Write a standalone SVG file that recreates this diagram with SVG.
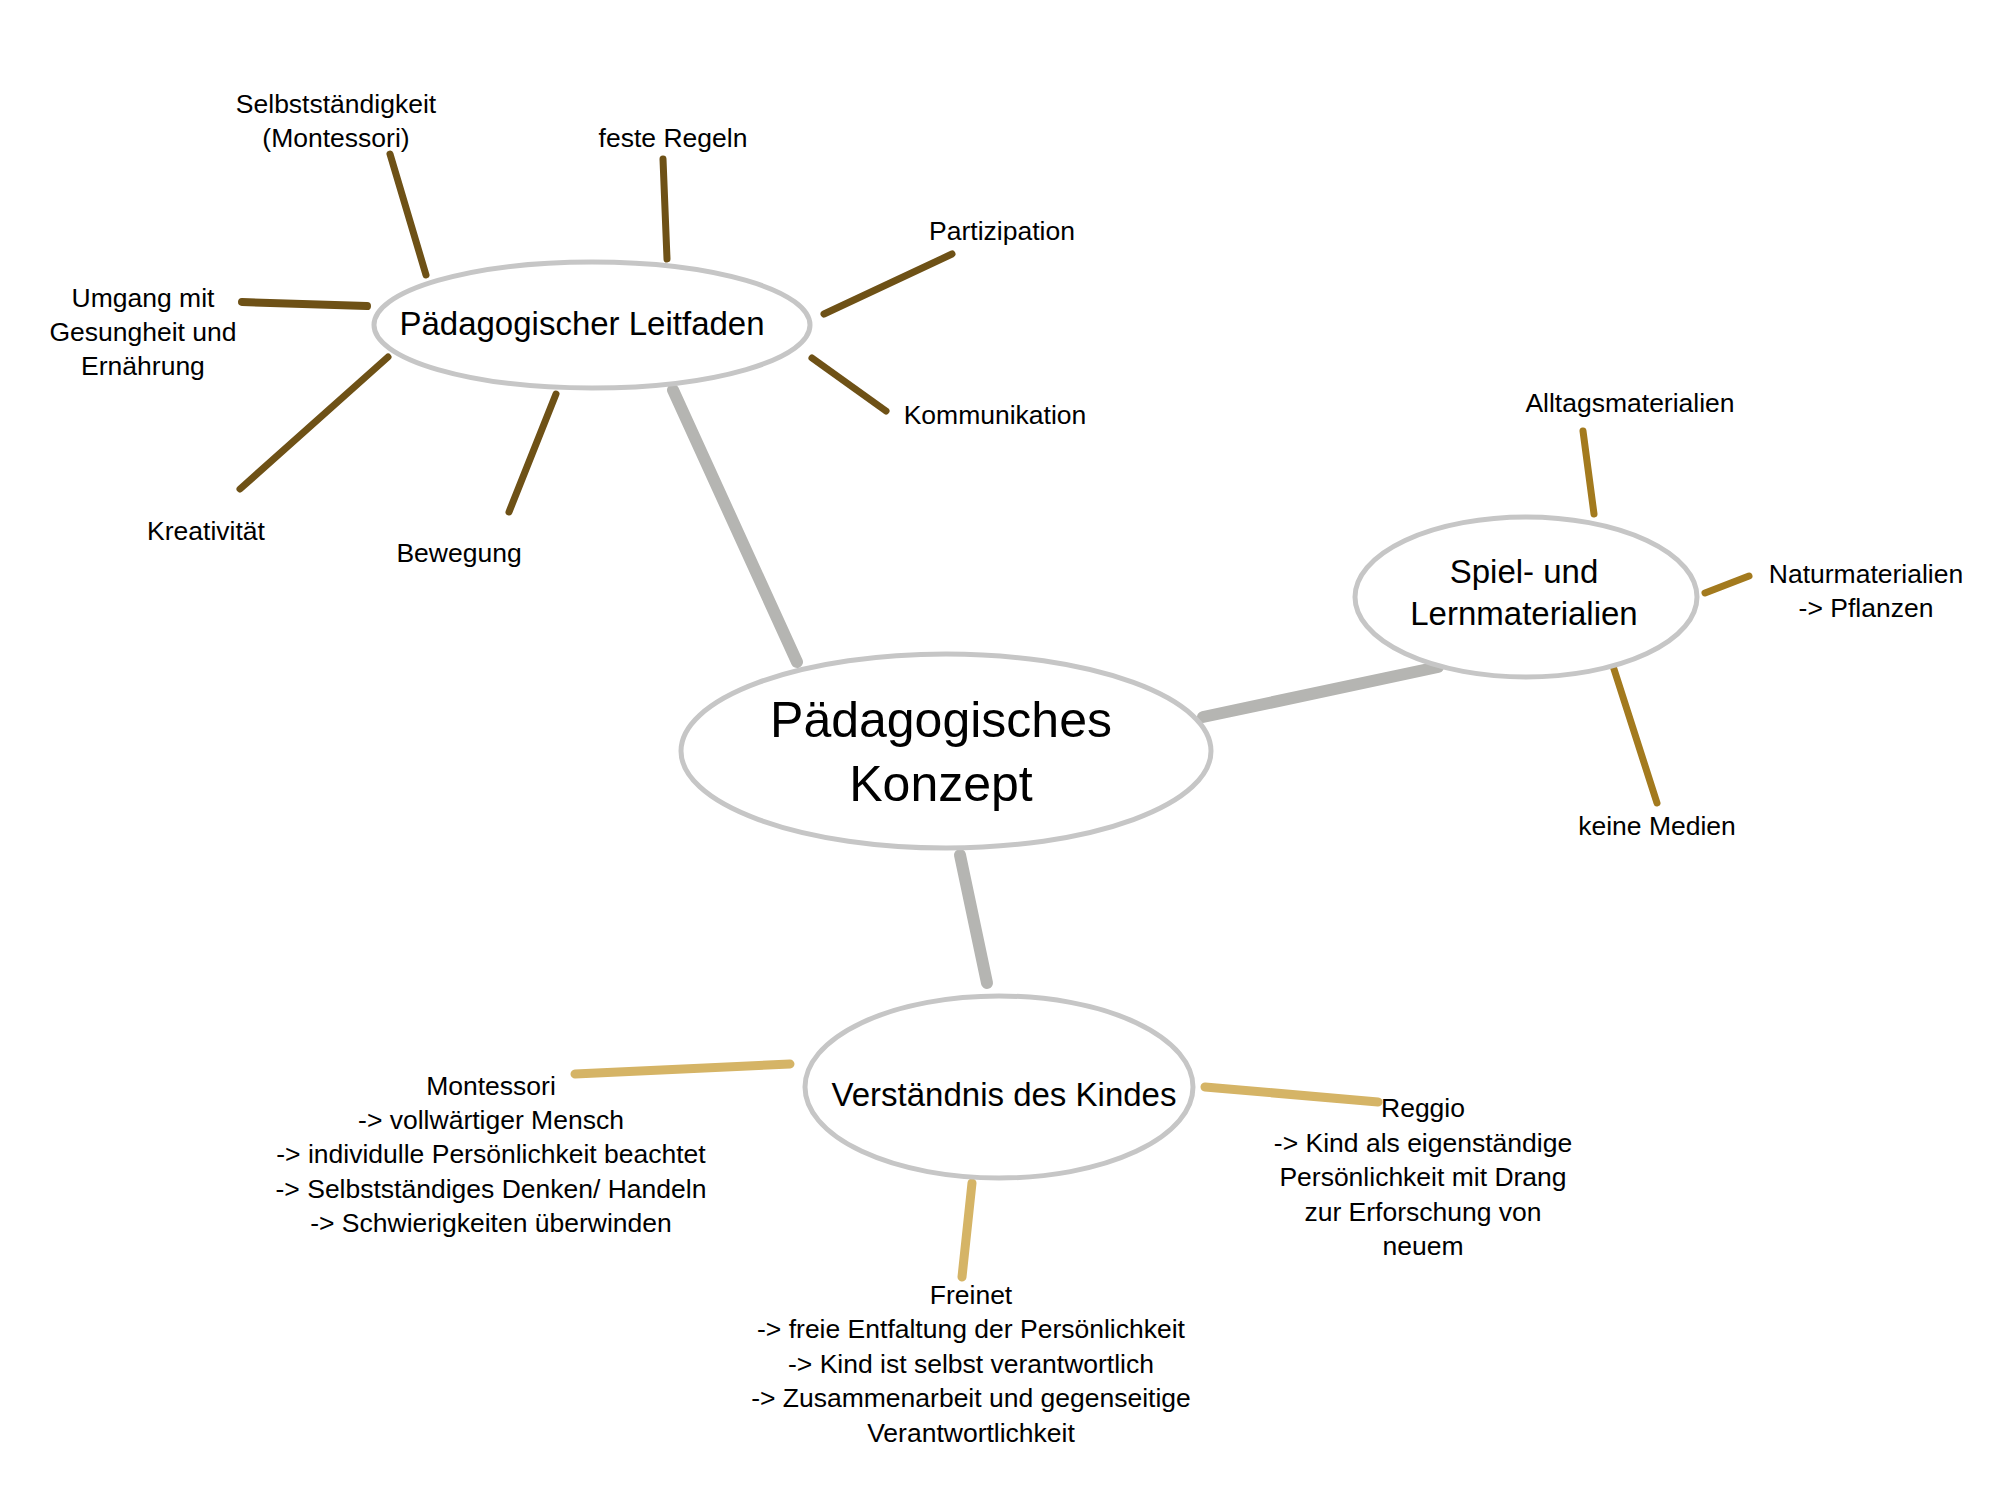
<svg xmlns="http://www.w3.org/2000/svg" width="1998" height="1500" viewBox="0 0 1998 1500">
<style>
.node{fill:#ffffff;stroke:#c6c6c6;stroke-width:5}
.t{font-family:"Liberation Sans",Arial,Helvetica,sans-serif;fill:#000000;text-anchor:middle}
.s{font-size:26.5px}
.m{font-size:33px}
.l{font-size:50px}
.c{fill:none;stroke-linecap:round}
.gray{stroke:#b5b5b2;stroke-width:12}
.dark{stroke:#6e5116;stroke-width:7}
.gold{stroke:#a37a1e;stroke-width:7}
.tan{stroke:#d5b466;stroke-width:9}
</style>
<rect width="1998" height="1500" fill="#ffffff"/>
<g id="connectors">
<line class="c gray" x1="673" y1="390" x2="797" y2="662"/>
<line class="c gray" x1="1203" y1="717" x2="1438" y2="667"/>
<line class="c gray" x1="960" y1="855" x2="987" y2="983"/>
<line class="c dark" x1="390" y1="154" x2="426" y2="275"/>
<line class="c dark" x1="663" y1="159" x2="667" y2="259"/>
<line class="c dark" x1="824" y1="314" x2="952" y2="254"/>
<line class="c dark" x1="812" y1="358" x2="886" y2="411"/>
<line class="c dark" x1="242" y1="302" x2="367" y2="306" style="stroke-width:8"/>
<line class="c dark" x1="240" y1="489" x2="388" y2="357"/>
<line class="c dark" x1="509" y1="512" x2="556" y2="394"/>
<line class="c gold" x1="1583" y1="431" x2="1594" y2="514"/>
<line class="c gold" x1="1705" y1="593" x2="1749" y2="576"/>
<line class="c gold" x1="1613" y1="666" x2="1657" y2="803"/>
<line class="c tan" x1="575" y1="1074" x2="790" y2="1064"/>
<line class="c tan" x1="1205" y1="1087" x2="1378" y2="1102"/>
<line class="c tan" x1="972" y1="1183" x2="962" y2="1277"/>
</g>
<g id="node-konzept">
<ellipse class="node" cx="946" cy="751" rx="265" ry="97"/>
<text class="t l" x="941" y="737">Pädagogisches</text>
<text class="t l" x="941" y="801">Konzept</text>
</g>
<g id="node-leitfaden">
<ellipse class="node" cx="592" cy="325" rx="218" ry="63"/>
<text class="t m" x="582" y="335">Pädagogischer Leitfaden</text>
</g>
<g id="node-spiel">
<ellipse class="node" cx="1526" cy="597" rx="171" ry="80"/>
<text class="t m" x="1524" y="583">Spiel- und</text>
<text class="t m" x="1524" y="625">Lernmaterialien</text>
</g>
<g id="node-verstaendnis">
<ellipse class="node" cx="999" cy="1087" rx="194" ry="91"/>
<text class="t m" x="1004" y="1106">Verständnis des Kindes</text>
</g>
<g id="label-selbststaendigkeit">
<text class="t s" x="336" y="113">Selbstständigkeit</text>
<text class="t s" x="336" y="147">(Montessori)</text>
</g>
<g id="label-regeln"><text class="t s" x="673" y="147">feste Regeln</text></g>
<g id="label-partizipation"><text class="t s" x="1002" y="240">Partizipation</text></g>
<g id="label-kommunikation"><text class="t s" x="995" y="424">Kommunikation</text></g>
<g id="label-umgang">
<text class="t s" x="143" y="307">Umgang mit</text>
<text class="t s" x="143" y="341">Gesungheit und</text>
<text class="t s" x="143" y="375">Ernährung</text>
</g>
<g id="label-kreativitaet"><text class="t s" x="206" y="540">Kreativität</text></g>
<g id="label-bewegung"><text class="t s" x="459" y="562">Bewegung</text></g>
<g id="label-alltag"><text class="t s" x="1630" y="412">Alltagsmaterialien</text></g>
<g id="label-natur">
<text class="t s" x="1866" y="583">Naturmaterialien</text>
<text class="t s" x="1866" y="617">-&gt; Pflanzen</text>
</g>
<g id="label-medien"><text class="t s" x="1657" y="835">keine Medien</text></g>
<g id="label-montessori">
<text class="t s" x="491" y="1095">Montessori</text>
<text class="t s" x="491" y="1129">-&gt; vollwärtiger Mensch</text>
<text class="t s" x="491" y="1163">-&gt; individulle Persönlichkeit beachtet</text>
<text class="t s" x="491" y="1198">-&gt; Selbstständiges Denken/ Handeln</text>
<text class="t s" x="491" y="1232">-&gt; Schwierigkeiten überwinden</text>
</g>
<g id="label-reggio">
<text class="t s" x="1423" y="1117">Reggio</text>
<text class="t s" x="1423" y="1152">-&gt; Kind als eigenständige</text>
<text class="t s" x="1423" y="1186">Persönlichkeit mit Drang</text>
<text class="t s" x="1423" y="1221">zur Erforschung von</text>
<text class="t s" x="1423" y="1255">neuem</text>
</g>
<g id="label-freinet">
<text class="t s" x="971" y="1304">Freinet</text>
<text class="t s" x="971" y="1338">-&gt; freie Entfaltung der Persönlichkeit</text>
<text class="t s" x="971" y="1373">-&gt; Kind ist selbst verantwortlich</text>
<text class="t s" x="971" y="1407">-&gt; Zusammenarbeit und gegenseitige</text>
<text class="t s" x="971" y="1442">Verantwortlichkeit</text>
</g>
</svg>
